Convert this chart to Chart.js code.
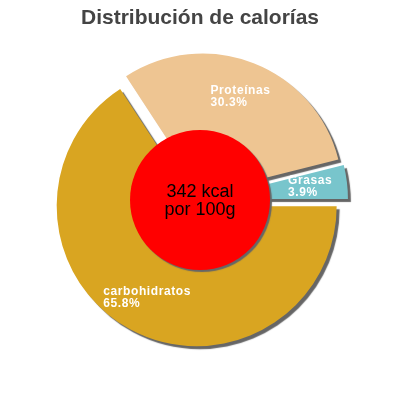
<!DOCTYPE html>
<html>
<head>
<meta charset="utf-8">
<script src="https://cdn.jsdelivr.net/npm/chart.js@4"></script>
<style>
  html, body { margin: 0; padding: 0; background: #fff; }
  #wrap { width: 400px; height: 400px; }
</style>
</head>
<body>
<div id="wrap"><canvas id="calChart" width="400" height="400"></canvas></div>
<script>
// Data
const sliceNames = ['carbohidratos', 'Proteínas', 'Grasas'];
const slicePercents = [65.8, 30.3, 3.9];
const energyLines = ['342 kcal', 'por 100g'];
const chartTitle = 'Distribución de calorías';

const sliceColors = ['#D9A521', '#EEC592', '#78C5CC'];
const sliceShift = [7, 7, 8];   // px each slice is pulled out of the centre
const FONT = "'Liberation Sans', Arial, sans-serif";

// draws slices pulled apart with a hard grey shadow
const explodePlugin = {
    id: 'explode',
    beforeDatasetDraw(chart, args) {
        const ctx = chart.ctx;
        args.meta.data.forEach((arc, i) => {
            const mid = (arc.startAngle + arc.endAngle) / 2;
            ctx.save();
            ctx.translate(Math.cos(mid) * sliceShift[i], Math.sin(mid) * sliceShift[i]);
            ctx.shadowColor = '#666666';
            ctx.shadowOffsetX = 3;
            ctx.shadowOffsetY = 3;
            ctx.shadowBlur = 1;
            arc.draw(ctx);
            ctx.restore();
        });
        return false;
    }
};

// red centre disc, energy text and slice labels
const centerPlugin = {
    id: 'centerDisc',
    afterDatasetsDraw(chart) {
        const ctx = chart.ctx;
        const arcs = chart.getDatasetMeta(0).data;
        if (!arcs.length) return;
        const cx = arcs[0].x, cy = arcs[0].y;

        ctx.save();
        ctx.shadowColor = '#666666';
        ctx.shadowOffsetX = 2;
        ctx.shadowOffsetY = 2;
        ctx.shadowBlur = 1;
        ctx.fillStyle = '#FF0000';
        ctx.beginPath();
        ctx.arc(cx, cy, 70, 0, Math.PI * 2);
        ctx.fill();
        ctx.restore();

        ctx.save();
        ctx.fillStyle = '#000';
        ctx.font = '18px ' + FONT;
        ctx.textAlign = 'center';
        ctx.textBaseline = 'alphabetic';
        ctx.fillText(energyLines[0], cx, cy - 3);
        ctx.fillText(energyLines[1], cx, cy + 15);
        ctx.restore();

        ctx.save();
        ctx.fillStyle = '#FFFFFF';
        ctx.font = 'bold 12px ' + FONT;
        ctx.letterSpacing = '0.6px';
        ctx.textAlign = 'left';
        ctx.textBaseline = 'middle';
        arcs.forEach((arc, i) => {
            const mid = (arc.startAngle + arc.endAngle) / 2;
            const px = cx + Math.cos(mid) * 111;
            const py = cy + Math.sin(mid) * 111;
            const lines = [sliceNames[i], slicePercents[i].toFixed(1) + '%'];
            const w = Math.max(...lines.map(l => ctx.measureText(l).width));
            ctx.fillText(lines[0], px - w / 2, py - 6);
            ctx.fillText(lines[1], px - w / 2, py + 6);
        });
        ctx.restore();
    }
};

const config = {
    type: 'doughnut',
    data: {
        labels: sliceNames,
        datasets: [{
            data: slicePercents,
            backgroundColor: sliceColors,
            borderWidth: 0
        }]
    },
    options: {
        responsive: false,
        animation: false,
        rotation: 90,
        radius: 140,
        cutout: '40%',
        layout: { padding: { bottom: 31.2 } },
        plugins: {
            legend: { display: false },
            tooltip: { enabled: false },
            title: {
                display: true,
                text: chartTitle,
                color: '#444444',
                font: { family: FONT, size: 21, weight: 'bold', lineHeight: 1.2 },
                padding: { top: 6, bottom: 0 }
            }
        }
    },
    plugins: [explodePlugin, centerPlugin]
};

new Chart(document.getElementById('calChart').getContext('2d'), config);
</script>
</body>
</html>
